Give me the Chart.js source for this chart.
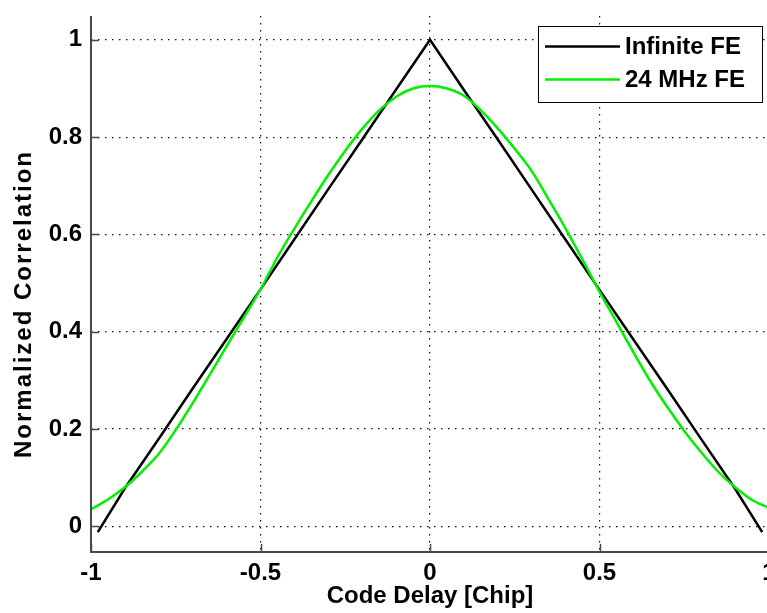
<!DOCTYPE html>
<html>
<head>
<meta charset="utf-8">
<script src="https://cdn.jsdelivr.net/npm/chart.js@4.4.1/dist/chart.umd.min.js"></script>
<style>
  html, body { margin: 0; padding: 0; background: #fff; overflow: hidden; }
  #wrap { width: 767px; height: 613px; overflow: hidden; }
  canvas { display: block; }
</style>
</head>
<body>
<div id="wrap"><canvas id="c" width="776" height="613"></canvas></div>
<script>
// Code delay in chips and normalized correlation for each front end
const delayIdeal = [-0.98, -0.9, -0.8, -0.7, -0.6, -0.5, -0.4, -0.3, -0.2, -0.1, 0,
                    0.1, 0.2, 0.3, 0.4, 0.5, 0.6, 0.7, 0.8, 0.9, 0.98];
const corrIdeal  = [-0.012, 0.078, 0.18, 0.283, 0.385, 0.487, 0.59, 0.693, 0.795, 0.898, 1.0,
                    0.897, 0.795, 0.692, 0.589, 0.486, 0.384, 0.282, 0.179, 0.077, -0.012];

const delayBand = [-1, -0.95, -0.9, -0.85, -0.8, -0.75, -0.7, -0.65, -0.6, -0.55, -0.5,
                   -0.45, -0.4, -0.35, -0.3, -0.25, -0.2, -0.15, -0.1, -0.05, 0,
                   0.05, 0.1, 0.15, 0.2, 0.25, 0.3, 0.35, 0.4, 0.45, 0.5,
                   0.55, 0.6, 0.65, 0.7, 0.75, 0.8, 0.85, 0.9, 0.95, 1];
const corrBand  = [0.035, 0.055, 0.080, 0.112, 0.149, 0.198, 0.253, 0.311, 0.37, 0.428, 0.487,
                   0.553, 0.612, 0.668, 0.722, 0.772, 0.817, 0.855, 0.883, 0.9, 0.905,
                   0.9, 0.885, 0.855, 0.818, 0.776, 0.73, 0.672, 0.612, 0.548, 0.482,
                   0.42, 0.358, 0.298, 0.245, 0.196, 0.152, 0.112, 0.08, 0.054, 0.038];

const seriesNames = ['Infinite FE', '24 MHz FE'];
const xTicks = [-1, -0.5, 0, 0.5, 1];
const xTickLabels = ['-1', '-0.5', '0', '0.5', '1'];
const yTicks = [0, 0.2, 0.4, 0.6, 0.8, 1];
const yTickLabels = ['0', '0.2', '0.4', '0.6', '0.8', '1'];
const xTitle = 'Code Delay [Chip]';
const yTitle = 'Normalized Correlation';

const FONT = '"Liberation Sans", Arial, Helvetica, sans-serif';
const AXIS_COLOR = '#4a4a4a';

const toPoints = (xs, ys) => xs.map((x, i) => ({ x: x, y: ys[i] }));

// Axis lines, inward tick marks, rotated y title and boxed legend
const decorations = {
  id: 'decorations',
  afterDraw(chart) {
    const ctx = chart.ctx;
    const area = chart.chartArea;
    const xs = chart.scales.x, ys = chart.scales.y;
    ctx.save();
    ctx.setLineDash([]);
    ctx.strokeStyle = AXIS_COLOR;
    ctx.lineWidth = 2;
    ctx.beginPath();
    ctx.moveTo(area.left, area.top);
    ctx.lineTo(area.left, area.bottom);
    ctx.lineTo(area.right, area.bottom);
    ctx.stroke();

    ctx.lineWidth = 1.5;
    ctx.beginPath();
    xTicks.forEach(v => {
      const px = Math.round(xs.getPixelForValue(v)) + 0.5;
      ctx.moveTo(px, area.bottom);
      ctx.lineTo(px, area.bottom - 8);
    });
    yTicks.forEach(v => {
      const py = Math.round(ys.getPixelForValue(v)) + 0.5;
      ctx.moveTo(area.left, py);
      ctx.lineTo(area.left + 8, py);
    });
    ctx.stroke();

    // y axis title
    ctx.save();
    ctx.translate(24, 304);
    ctx.rotate(-Math.PI / 2);
    ctx.font = 'bold 24px ' + FONT;
    ctx.letterSpacing = '2px';
    ctx.fillStyle = '#000';
    ctx.textAlign = 'center';
    ctx.textBaseline = 'middle';
    ctx.fillText(yTitle, 0, 0);
    ctx.restore();

    // legend
    const bx = 538.5, by = 26.5, bw = 224, bh = 76;
    ctx.fillStyle = '#fff';
    ctx.fillRect(bx, by, bw, bh);
    ctx.strokeStyle = '#000';
    ctx.lineWidth = 1;
    ctx.strokeRect(bx, by, bw, bh);
    ctx.font = 'bold 24px ' + FONT;
    ctx.textAlign = 'left';
    ctx.textBaseline = 'middle';
    const rows = [46.5, 79.5];
    chart.data.datasets.forEach((ds, i) => {
      ctx.strokeStyle = ds.borderColor;
      ctx.lineWidth = 2.5;
      ctx.beginPath();
      ctx.moveTo(545, rows[i]);
      ctx.lineTo(620, rows[i]);
      ctx.stroke();
      ctx.fillStyle = '#000';
      ctx.fillText(ds.label, 625, rows[i] + 1);
    });
    ctx.restore();
  }
};

const gridStyle = { drawTicks: false, color: '#111', lineWidth: 1.2 };
const borderStyle = { display: false, dash: [1.5, 5.5] };

new Chart(document.getElementById('c'), {
  type: 'line',
  data: {
    datasets: [
      {
        label: seriesNames[0],
        data: toPoints(delayIdeal, corrIdeal),
        borderColor: '#000000',
        borderWidth: 2.5,
        pointRadius: 0,
        tension: 0,
        order: 1
      },
      {
        label: seriesNames[1],
        data: toPoints(delayBand, corrBand),
        borderColor: '#00f000',
        borderWidth: 2.5,
        pointRadius: 0,
        cubicInterpolationMode: 'monotone',
        order: 0
      }
    ]
  },
  options: {
    responsive: false,
    animation: false,
    devicePixelRatio: 1,
    layout: { padding: { top: 16, right: 7, left: 0, bottom: 0 } },
    plugins: { legend: { display: false }, tooltip: { enabled: false } },
    scales: {
      x: {
        type: 'linear',
        min: -1,
        max: 1,
        afterBuildTicks: s => { s.ticks = xTicks.map(v => ({ value: v })); },
        afterFit: s => { s.height = 61; s.paddingLeft = 0; s.paddingRight = 0; },
        ticks: {
          padding: 7,
          color: '#000',
          font: { family: FONT, size: 24, weight: 'bold' },
          maxRotation: 0,
          callback: v => xTickLabels[xTicks.indexOf(v)]
        },
        grid: gridStyle,
        border: borderStyle,
        title: {
          display: true,
          text: xTitle,
          color: '#000',
          font: { family: FONT, size: 24, weight: 'bold' },
          padding: { top: 0, bottom: 2 }
        }
      },
      y: {
        type: 'linear',
        min: -0.053,
        max: 1.049,
        afterBuildTicks: s => { s.ticks = yTicks.map(v => ({ value: v })); },
        afterFit: s => { s.width = 91; s.paddingTop = 0; s.paddingBottom = 0; },
        ticks: {
          padding: 9,
          color: '#000',
          font: { family: FONT, size: 24, weight: 'bold' },
          callback: v => yTickLabels[yTicks.indexOf(v)]
        },
        grid: gridStyle,
        border: borderStyle
      }
    }
  },
  plugins: [decorations]
});
</script>
</body>
</html>
